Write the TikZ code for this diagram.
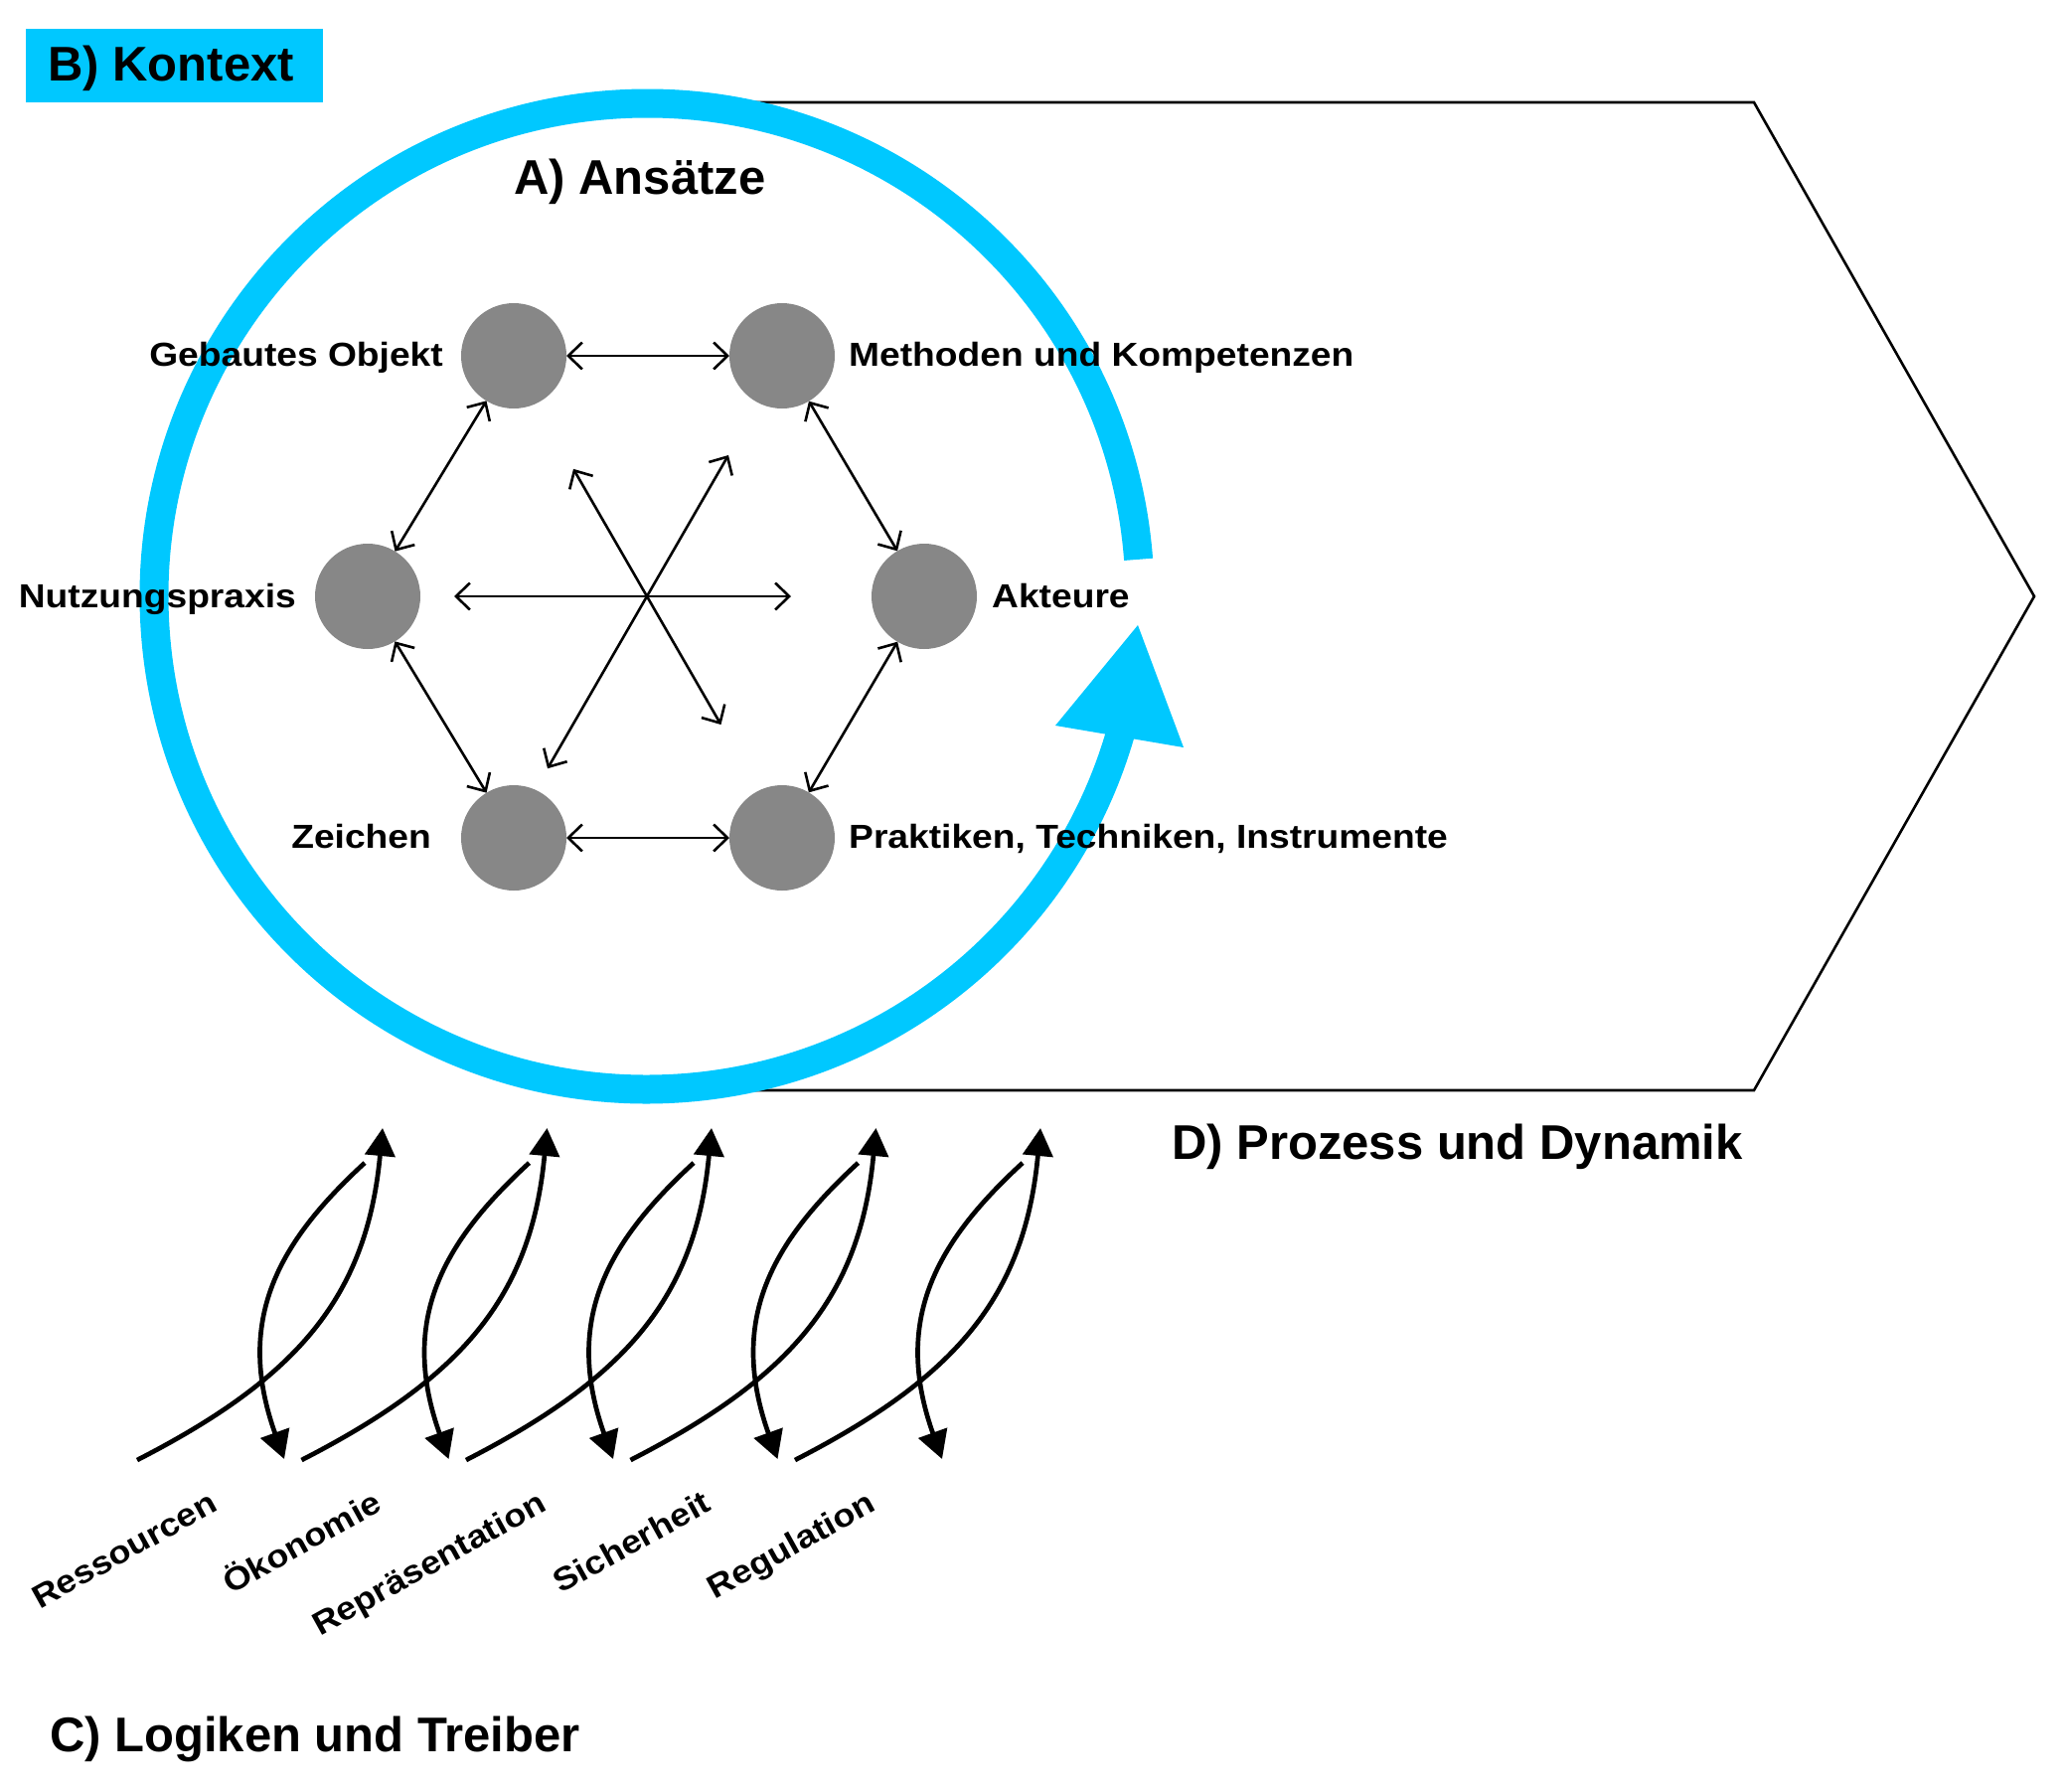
\documentclass[tikz,border=0pt]{standalone}
\usepackage{fontspec}
\setmainfont{Liberation Sans}
\newfontfamily\labfont{Liberation Sans}[FakeStretch=1.11]
\usetikzlibrary{arrows.meta,calc}
\definecolor{ringblue}{HTML}{00C8FF}
\definecolor{dotgray}{HTML}{878787}
\begin{document}
\begin{tikzpicture}[x=1pt,y=-1pt,
  title/.style={font=\fontsize{49}{58}\selectfont\bfseries, inner sep=0pt},
  lab/.style={font=\labfont\bfseries\fontsize{33.5}{40}\selectfont, inner sep=0pt},
  slab/.style={font=\labfont\bfseries\fontsize{32.5}{40}\selectfont, inner sep=0pt},
  dot/.style={circle, fill=dotgray, minimum size=106pt, inner sep=0pt, outer sep=0pt},
  link/.style={line width=2.6pt, {Straight Barb[length=14pt,width=27pt]}-{Straight Barb[length=14pt,width=27pt]}},
  wave/.style={line width=4.7pt, -{Triangle[length=28pt,width=30pt]}},
  frame/.style={line width=2.6pt, line join=miter},
  ring/.style={line width=29pt, draw=ringblue}
]
\useasboundingbox (0,0) rectangle (2079,1802);

% process chevron
\draw[frame] (650,103) -- (1765,103) -- (2047,600) -- (1765,1097) -- (650,1097);

% blue context ring with arrow
\coordinate (rc) at (651,600);
\draw[ring] ($(rc)+(-4.3:496)$) arc[start angle=4.3, end angle=345, radius=496pt];
\fill[ringblue] (1145,629) -- (1062,730) -- (1191,752) -- cycle;

% B) box
\fill[ringblue] (26,29) rectangle (325,103);
\node[title, anchor=base west] (tB) at (48,81) {B) Kontext};
\node[title, anchor=base west] (tA) at (517,195) {A) Ansätze};
\node[title, anchor=base west] (tD) at (1179,1166) {D) Prozess und Dynamik};
\node[title, anchor=base west] (tC) at (50,1762) {C) Logiken und Treiber};

% bottom drivers
\foreach \i in {0,...,4}{
  \begin{scope}[xshift=\i*165.5pt]
    \coordinate (ua\i) at (138,1469);
    \coordinate (ub\i) at (385,1135);
    \draw[wave] (ua\i) .. controls (298,1387) and (369,1306) .. (ub\i);
    \coordinate (da\i) at (367,1170);
    \coordinate (db\i) at (286,1468);
    \draw[wave] (da\i) .. controls (280,1250) and (236,1328) .. (db\i);
  \end{scope}
}
\foreach \t [count=\i from 0] in {Ressourcen,Ökonomie,Repräsentation,Sicherheit,Regulation}
  \node[slab, anchor=base east, rotate=29] (d\i) at (221+\i*165.5, 1519) {\t};

% labels
\node[lab, anchor=base east] (lgo) at (446,368) {Gebautes Objekt};
\node[lab, anchor=base west] (lmk) at (854,368) {Methoden und Kompetenzen};
\node[lab, anchor=base east] (lnp) at (298,611) {Nutzungspraxis};
\node[lab, anchor=base west] (lak) at (998,611) {Akteure};
\node[lab, anchor=base east] (lze) at (434,853) {Zeichen};
\node[lab, anchor=base west] (lpt) at (854,853) {Praktiken, Techniken, Instrumente};

% dots
\node[dot] (go) at (517,358) {};
\node[dot] (mk) at (787,358) {};
\node[dot] (np) at (370,600) {};
\node[dot] (ak) at (930,600) {};
\node[dot] (ze) at (517,843) {};
\node[dot] (pt) at (787,843) {};

\draw[link] (go) -- (mk);
\draw[link] (mk) -- (ak);
\draw[link] (ak) -- (pt);
\draw[link] (pt) -- (ze);
\draw[link] (ze) -- (np);
\draw[link] (np) -- (go);

% central star
\coordinate (hc) at (651,600);
\coordinate (s1) at ($(hc)+(180:194)$);
\coordinate (s2) at ($(hc)+(0:145)$);
\coordinate (s3) at ($(hc)+(240:148)$);
\coordinate (s4) at ($(hc)+(60:149)$);
\coordinate (s5) at ($(hc)+(300:164)$);
\coordinate (s6) at ($(hc)+(120:200)$);
\draw[link] (s1) -- (s2);
\draw[link] (s3) -- (s4);
\draw[link] (s5) -- (s6);
\end{tikzpicture}
\end{document}
